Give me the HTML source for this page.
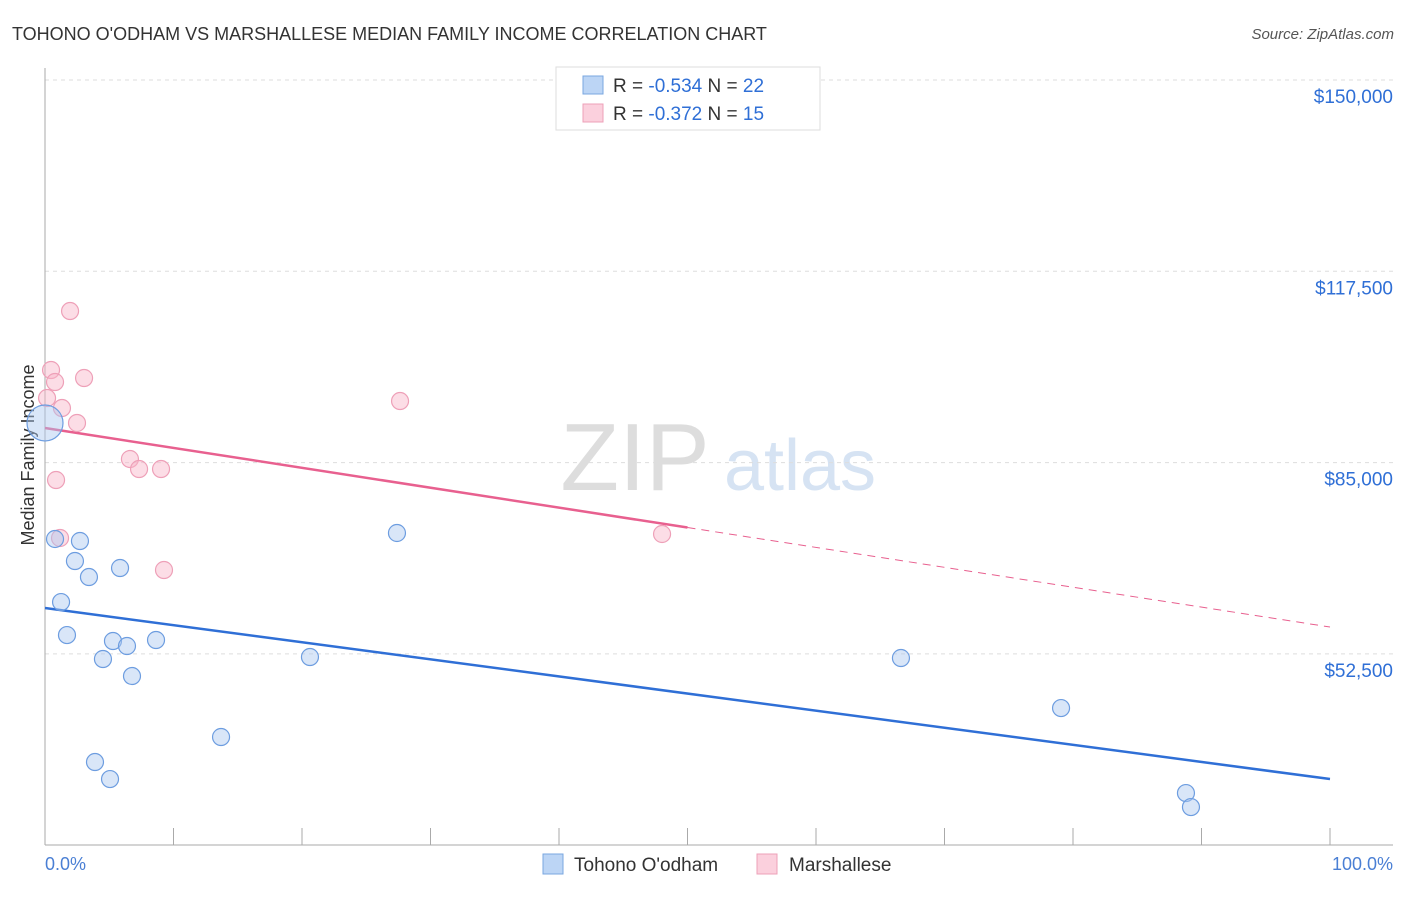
<!DOCTYPE html>
<html><head><meta charset="utf-8"><style>
body{margin:0;background:#fff;font-family:"Liberation Sans",sans-serif;}
svg text{font-family:"Liberation Sans",sans-serif;}
</style></head><body>
<svg width="1406" height="892" viewBox="0 0 1406 892">
<text x="12" y="40" font-size="18" fill="#333">TOHONO O'ODHAM VS MARSHALLESE MEDIAN FAMILY INCOME CORRELATION CHART</text>
<text x="1394" y="39" font-size="15" fill="#555" font-style="italic" text-anchor="end">Source: ZipAtlas.com</text>
<g>
<text x="635" y="490" font-size="96" fill="#ddd" font-family="Liberation Serif" text-anchor="middle">ZIP</text>
<text x="800" y="490" font-size="72" fill="#d6e3f3" text-anchor="middle">atlas</text>
</g>
<g id="grid"></g>
<g id="axes"></g>
<text transform="translate(34,455) rotate(-90)" font-size="18" fill="#333" text-anchor="middle">Median Family Income</text>
<text x="45" y="870" font-size="18" fill="#4a7fd4">0.0%</text>
<text x="1393" y="870" font-size="18" fill="#4a7fd4" text-anchor="end">100.0%</text>
<g id="lines"></g>
<g id="points"></g>
<g>
<rect x="556" y="67" width="264" height="63" fill="#fff" stroke="#ddd"/>
<rect x="583" y="76" width="20" height="18" fill="#bcd5f5" stroke="#7aa7e0"/>
<text x="613" y="92" font-size="19" fill="#333">R = <tspan fill="#2f6fd6">-0.534</tspan>   N = <tspan fill="#2f6fd6">22</tspan></text>
<rect x="583" y="104" width="20" height="18" fill="#fbd0dd" stroke="#eea0b8"/>
<text x="613" y="120" font-size="19" fill="#333">R = <tspan fill="#2f6fd6">-0.372</tspan>   N = <tspan fill="#2f6fd6">15</tspan></text>
</g>
<g>
<rect x="543" y="854" width="20" height="20" fill="#bcd5f5" stroke="#7aa7e0"/>
<text x="574" y="871" font-size="19" fill="#333">Tohono O'odham</text>
<rect x="757" y="854" width="20" height="20" fill="#fbd0dd" stroke="#eea0b8"/>
<text x="789" y="871" font-size="19" fill="#333">Marshallese</text>
</g>
</svg>
<script>
const yTicks=[150000,117500,85000,52500];
const yTickLabels=["$150,000","$117,500","$85,000","$52,500"];
const blueX=[0,0.78,2.72,2.33,3.42,5.84,1.25,1.71,5.29,6.38,8.64,4.51,6.77,20.62,13.70,3.89,5.06,27.39,66.61,79.07,88.79,89.18];
const blueY=[91730,72020,71680,68280,65560,67090,61310,55700,54690,53840,54860,51630,48740,51970,38380,34130,31240,73040,51800,43300,28860,26480];
const pinkX=[1.95,0.47,0.78,3.04,0.16,1.32,2.49,27.63,6.61,7.32,9.03,0.86,1.17,9.26,48.02];
const pinkY=[110750,100730,98690,99370,95970,94270,91730,95460,85610,83910,83910,82040,72190,66750,72870];
const blueTrend=[60290,31240];
const pinkTrend=[90875,57065];
const pinkSolidEnd=50;
const NS="http://www.w3.org/2000/svg";
const xs=v=>45+v*12.85;
const ys=v=>80+(150000-v)/32500*191.3;
function mk(tag,attrs,parent){const e=document.createElementNS(NS,tag);for(const k in attrs)e.setAttribute(k,attrs[k]);document.getElementById(parent).appendChild(e);return e;}
yTicks.forEach((t,i)=>{
 const l=mk('line',{x1:45,x2:1393,y1:ys(t),y2:ys(t),stroke:'#ddd','stroke-dasharray':'4,4'},'grid');
 
 
 const tx=mk('text',{x:1393,y:ys(t)+23,'font-size':19,fill:'#2f6fd6','text-anchor':'end'},'grid');
 tx.textContent=yTickLabels[i];
 
 
});
const ya=mk('line',{x1:45,x2:45,y1:68,y2:845,stroke:'#aaa'},'axes');


const xa=mk('line',{x1:45,x2:1393,y1:845,y2:845,stroke:'#aaa'},'axes');


for(let i=0;i<=10;i++){
 const t=mk('line',{x1:xs(i*10),x2:xs(i*10),y1:828,y2:845,stroke:'#aaa'},'axes');
 
 
}
const pv=p=>pinkTrend[0]+(pinkTrend[1]-pinkTrend[0])*p/100;
const bl=mk('line',{x1:xs(0),y1:ys(blueTrend[0]),x2:xs(100),y2:ys(blueTrend[1]),stroke:'#2f6fd6','stroke-width':2.5},'lines');


const pl=mk('line',{x1:xs(0),y1:ys(pv(0)),x2:xs(pinkSolidEnd),y2:ys(pv(pinkSolidEnd)),stroke:'#e8608f','stroke-width':2.5},'lines');


const pd=mk('line',{x1:xs(pinkSolidEnd),y1:ys(pv(pinkSolidEnd)),x2:xs(100),y2:ys(pv(100)),stroke:'#e8608f','stroke-width':1,'stroke-dasharray':'8,6'},'lines');


pinkX.forEach((x,i)=>{
 const c=mk('circle',{cx:xs(x),cy:ys(pinkY[i]),r:8.5,fill:'rgba(248,180,200,0.45)',stroke:'#eea0b8','stroke-width':1.2},'points');
 
 
});
blueX.forEach((x,i)=>{
 const c=mk('circle',{cx:xs(x),cy:ys(blueY[i]),r:i===0?18:8.5,fill:'rgba(170,200,240,0.45)',stroke:'#6d9de0','stroke-width':1.2},'points');
 
 
});
</script>
</body></html>
